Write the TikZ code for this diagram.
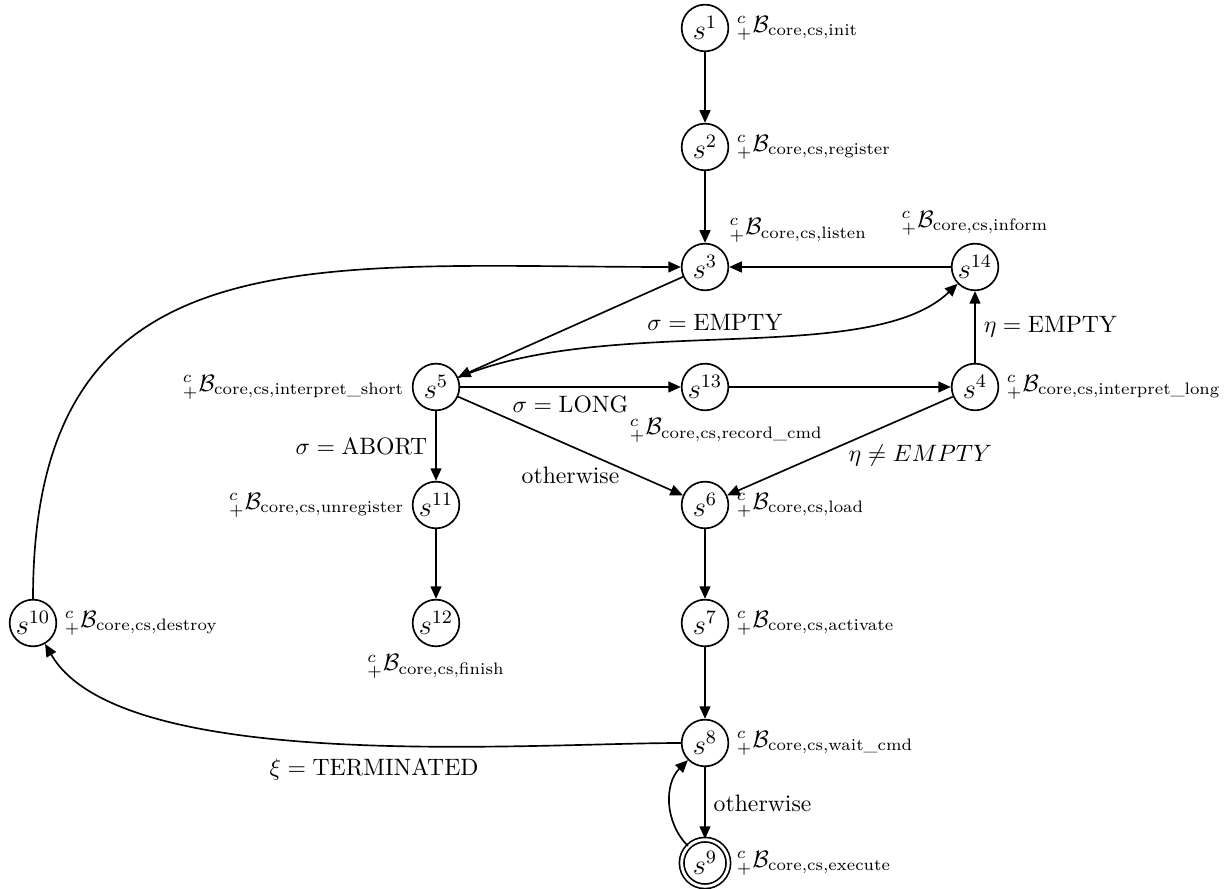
\documentclass[tikz,border=0pt]{standalone}
\usepackage{amsmath}
\usetikzlibrary{arrows.meta}
% pre-scripted behaviour name: {}^c_+ B_{core,cs,<name>}
\newcommand{\bhv}[1]{${}^{c}_{+}\mathcal{B}_{\text{core,cs,#1}}$}

\begin{document}
\begin{tikzpicture}[x=0.4219pt, y=0.4219pt,
  st/.style={circle, draw, line width=0.7pt, minimum size=19.7pt, inner sep=0pt,
    font=\fontsize{11.5pt}{14pt}\selectfont},
  fin/.style={st, double, double distance=1.2pt},
  lbl/.style={inner sep=3pt, font=\normalsize},
  edge/.style={line width=0.7pt, -{Triangle[length=5.3pt,width=4.6pt]}},
]
\useasboundingbox (0,0) rectangle (1227,888);

% states
\node[st, label={[lbl]right:\bhv{init}}] (s1) at (705,860) {$s^{1}$};
\node[st, label={[lbl]right:\bhv{register}}] (s2) at (705,741) {$s^{2}$};
\node[st, label={[lbl]above right:\bhv{listen}}] (s3) at (705,621) {$s^{3}$};
\node[st, label={[lbl]above:\bhv{inform}}] (s14) at (975,621) {$s^{14}$};
\node[st, label={[lbl]left:\bhv{interpret\_short}}] (s5) at (436,501) {$s^{5}$};
\node[st, label={[lbl,xshift=9pt]below:\bhv{record\_cmd}}] (s13) at (705,501) {$s^{13}$};
\node[st, label={[lbl]right:\bhv{interpret\_long}}] (s4) at (975,501) {$s^{4}$};
\node[st, label={[lbl]left:\bhv{unregister}}] (s11) at (436,383) {$s^{11}$};
\node[st, label={[lbl]right:\bhv{load}}] (s6) at (705,383) {$s^{6}$};
\node[st, label={[lbl]below:\bhv{finish}}] (s12) at (436,265) {$s^{12}$};
\node[st, label={[lbl]right:\bhv{activate}}] (s7) at (705,265) {$s^{7}$};
\node[st, label={[lbl]right:\bhv{destroy}}] (s10) at (33,265) {$s^{10}$};
\node[st, label={[lbl]right:\bhv{wait\_cmd}}] (s8) at (705,145) {$s^{8}$};
\node[fin, label={[lbl]right:\bhv{execute}}] (s9) at (705,25) {$s^{9}$};

% transitions
\draw[edge] (s1) -- (s2);
\draw[edge] (s2) -- (s3);
\draw[edge] (s14) -- (s3);
\draw[edge] (s4) -- node[right] {$\eta = \text{EMPTY}$} (s14);
\draw[edge] (s3) -- (s5);
\draw[edge] (s5) .. controls (610,575) and (870,520) .. node[pos=0.47, above] {$\sigma = \text{EMPTY}$} (s14);
\draw[edge] (s5) -- node[below] {$\sigma = \text{LONG}$} (s13);
\draw[edge] (s13) -- (s4);
\draw[edge] (s5) -- node[left] {$\sigma = \text{ABORT}$} (s11);
\draw[edge] (s5) -- node[below=5pt] {otherwise} (s6);
\draw[edge] (s4) -- node[below right, yshift=4pt] {$\eta \neq EMPTY$} (s6);
\draw[edge] (s11) -- (s12);
\draw[edge] (s6) -- (s7);
\draw[edge] (s7) -- (s8);
\draw[edge] (s8) -- node[right] {otherwise} (s9);
\draw[edge] (s9) to[bend left=45] (s8);
\draw[edge] (s8) to[out=180, in=-60, looseness=0.6] node[pos=0.45, below=2pt] {$\xi = \text{TERMINATED}$} (s10);
\draw[edge] (s10) to[out=90, in=180, looseness=1.3] (s3);
\end{tikzpicture}
\end{document}
